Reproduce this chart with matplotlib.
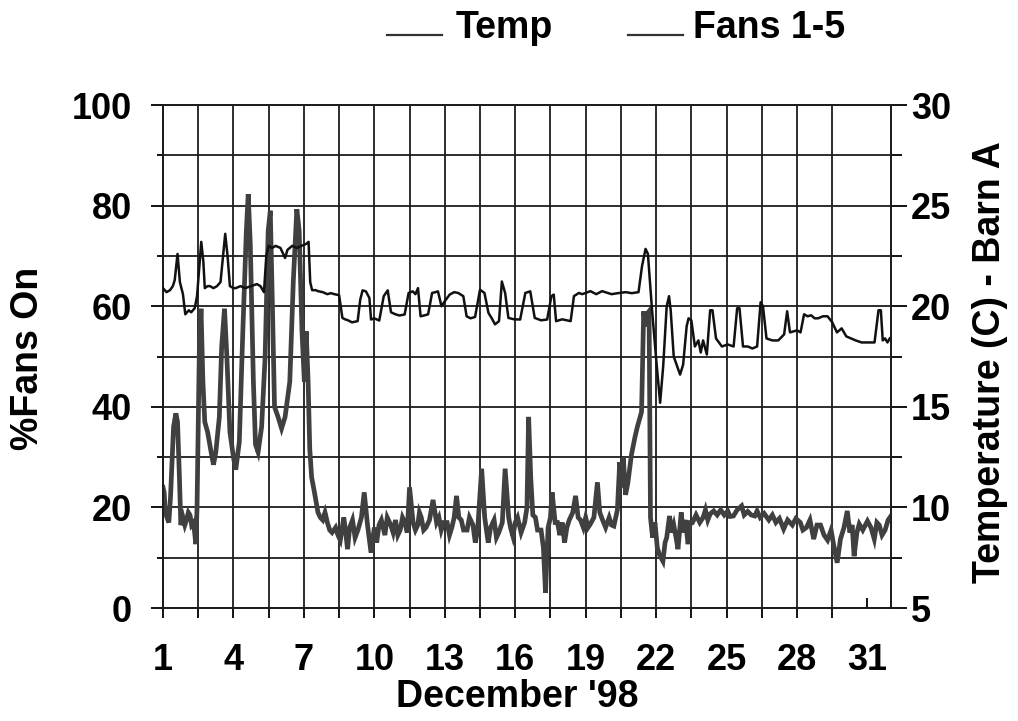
import matplotlib
matplotlib.use("Agg")
import matplotlib.pyplot as plt
import matplotlib.lines as mlines
import numpy as np

# Barn A, December 1998: inside temperature and share of fans 1-5 running
temp_day = [1.00, 1.15, 1.30, 1.42, 1.50, 1.62, 1.72, 1.85, 1.95, 2.10, 2.20, 2.35, 2.45, 2.55,
            2.63, 2.72, 2.78, 2.90, 3.00, 3.15, 3.30, 3.45, 3.55, 3.65, 3.75, 3.85, 4.00, 4.10,
            4.30, 4.50, 4.75, 5.00, 5.15, 5.30, 5.40, 5.50, 5.65, 5.80, 6.00, 6.20, 6.30, 6.50,
            6.70, 6.90, 7.10, 7.20, 7.27, 7.35, 7.50, 7.60, 7.80, 8.00, 8.15, 8.30, 8.50, 8.64,
            8.75, 8.86, 9.05, 9.29, 9.40, 9.50, 9.64, 9.79, 9.86, 10.00, 10.21, 10.40, 10.57,
            10.71, 10.90, 11.07, 11.29, 11.46, 11.64, 11.75, 11.86, 11.97, 12.15, 12.29, 12.46,
            12.60, 12.71, 12.86, 13.00, 13.21, 13.40, 13.57, 13.79, 13.93, 14.10, 14.29, 14.50,
            14.69, 14.86, 15.00, 15.14, 15.31, 15.43, 15.57, 15.71, 15.95, 16.21, 16.43, 16.64,
            16.83, 17.10, 17.36, 17.54, 17.64, 17.74, 18.00, 18.36, 18.50, 18.71, 18.85, 19.00,
            19.20, 19.45, 19.70, 19.86, 20.10, 20.43, 20.70, 20.96, 21.25, 21.40, 21.55, 21.65,
            21.75, 21.82, 22.00, 22.17, 22.30, 22.45, 22.55, 22.62, 22.75, 23.02, 23.15, 23.30,
            23.38, 23.50, 23.65, 23.80, 23.90, 24.00, 24.16, 24.30, 24.40, 24.55, 24.80, 25.05,
            25.30, 25.45, 25.55, 25.70, 25.90, 26.10, 26.30, 26.45, 26.55, 26.70, 26.95, 27.20,
            27.45, 27.58, 27.70, 28.00, 28.15, 28.30, 28.45, 28.60, 28.75, 28.90, 29.10, 29.30,
            29.50, 29.70, 29.90, 30.10, 30.30, 30.50, 30.75, 31.00, 31.30, 31.47, 31.57, 31.65,
            31.75, 31.85, 31.95]
temp_c = [20.9, 20.7, 20.8, 21.0, 21.3, 22.6, 21.2, 20.6, 19.6, 19.8, 19.7, 19.9, 20.5, 22.0,
          23.2, 22.2, 20.9, 21.0, 21.0, 20.9, 21.0, 21.2, 22.4, 23.6, 22.5, 21.0, 20.9, 20.9,
          21.0, 20.9, 21.0, 21.1, 21.0, 20.7, 22.5, 23.0, 22.9, 23.0, 22.9, 22.4, 22.8, 23.0,
          22.9, 23.0, 23.1, 23.2, 21.2, 20.8, 20.8, 20.75, 20.7, 20.6, 20.65, 20.6, 20.55, 19.42,
          19.35, 19.31, 19.2, 19.26, 20.33, 20.79, 20.74, 20.41, 19.34, 19.4, 19.29, 20.5, 20.79,
          19.7, 19.6, 19.54, 19.59, 20.66, 20.74, 20.6, 20.9, 19.5, 19.55, 19.6, 20.66,
          20.7, 20.74, 20.0, 20.25, 20.58, 20.7, 20.66, 20.5, 19.5, 19.4, 19.47, 20.82,
          20.66, 19.67, 19.4, 19.1, 19.26, 21.23, 20.66, 19.42, 19.35, 19.34, 20.66, 20.74,
          19.42, 19.3, 19.34, 20.5, 20.58, 19.26, 19.35, 19.26, 20.5, 20.66, 20.6, 20.66,
          20.75, 20.6, 20.75, 20.69, 20.6, 20.66, 20.7, 20.65, 20.7, 22.0, 22.85, 22.6,
          21.0, 19.9, 17.4, 15.2, 17.0, 20.0, 20.5, 19.8, 17.5, 16.6, 17.1, 19.0,
          19.4, 19.3, 18.0, 18.3, 17.7, 18.3, 17.6, 19.8, 19.8, 18.4, 18.0, 18.1,
          18.0, 19.9, 19.9, 18.0, 18.0, 17.9, 18.0, 20.2, 20.0, 18.4, 18.3, 18.3,
          18.6, 19.75, 18.7, 18.8, 18.7, 19.6, 19.5, 19.55, 19.4, 19.4, 19.5, 19.5,
          19.2, 18.7, 18.9, 18.5, 18.4, 18.3, 18.2, 18.2, 18.2, 19.8, 19.8, 18.3,
          18.4, 18.2, 18.4]

fans_day = [1.00, 1.05, 1.10, 1.17, 1.25, 1.32, 1.45, 1.55, 1.62, 1.70, 1.76, 1.85, 1.93, 2.00,
            2.08, 2.15, 2.22, 2.30, 2.40, 2.45, 2.55, 2.62, 2.70, 2.78, 2.90, 3.05, 3.15, 3.25,
            3.40, 3.50, 3.62, 3.72, 3.85, 4.00, 4.10, 4.25, 4.40, 4.55, 4.63, 4.72, 4.85, 4.94,
            5.05, 5.20, 5.35, 5.48, 5.57, 5.66, 5.75, 5.90, 6.05, 6.20, 6.40, 6.55, 6.70, 6.80,
            6.92, 7.02, 7.10, 7.18, 7.25, 7.33, 7.45, 7.60, 7.70, 7.80, 7.90, 8.00, 8.10, 8.20,
            8.35, 8.45, 8.55, 8.70, 8.78, 8.86, 8.95, 9.07, 9.18, 9.30, 9.45, 9.57, 9.71, 9.86,
            10.00, 10.10, 10.20, 10.30, 10.45, 10.55, 10.70, 10.80, 10.90, 11.00, 11.10, 11.20,
            11.30, 11.40, 11.50, 11.65, 11.75, 11.85, 11.92, 12.00, 12.10, 12.20, 12.35, 12.50,
            12.65, 12.75, 12.85, 12.95, 13.10, 13.20, 13.30, 13.40, 13.50, 13.60, 13.70, 13.80,
            13.95, 14.05, 14.20, 14.30, 14.40, 14.57, 14.70, 14.85, 14.95, 15.10, 15.20, 15.30,
            15.45, 15.57, 15.72, 15.80, 15.90, 16.00, 16.10, 16.25, 16.40, 16.50, 16.57, 16.66,
            16.75, 16.86, 16.95, 17.10, 17.20, 17.29, 17.40, 17.50, 17.57, 17.70, 17.80, 17.90,
            18.00, 18.10, 18.20, 18.30, 18.45, 18.57, 18.68, 18.78, 18.90, 19.00, 19.10, 19.20,
            19.35, 19.50, 19.60, 19.72, 19.85, 20.00, 20.10, 20.20, 20.35, 20.45, 20.52, 20.60,
            20.70, 20.80, 20.95, 21.10, 21.20, 21.38, 21.47, 21.55, 21.62, 21.70, 21.76, 21.85,
            21.95, 22.05, 22.15, 22.29, 22.38, 22.45, 22.57, 22.66, 22.75, 22.85, 22.93, 23.07,
            23.15, 23.25, 23.36, 23.45, 23.55, 23.70, 23.86, 24.00, 24.10, 24.20, 24.30, 24.45,
            24.60, 24.75, 24.90, 25.05, 25.15, 25.29, 25.45, 25.64, 25.75, 25.90, 26.05, 26.20,
            26.30, 26.43, 26.60, 26.80, 26.95, 27.10, 27.25, 27.43, 27.60, 27.80, 27.95, 28.14,
            28.25, 28.40, 28.55, 28.71, 28.85, 29.00, 29.15, 29.30, 29.45, 29.57, 29.71, 29.85,
            30.00, 30.14, 30.25, 30.35, 30.43, 30.55, 30.65, 30.80, 31.00, 31.15, 31.29, 31.40,
            31.50, 31.62, 31.75, 31.88, 32.00]
fans_pct = [24, 23, 19, 18, 17, 22, 36, 38.7, 37, 26, 16.5, 18, 16.5, 17.5,
            19, 18.5, 16.5, 17, 12.7, 20, 52, 59.5, 45, 37, 35, 31, 28.5, 31,
            38, 52, 59.5, 50, 35, 30, 27.5, 33, 55, 75, 82.3, 72, 45, 32.5,
            31, 36, 50, 75, 79, 60, 40, 38, 35.7, 38, 45, 65, 79.3, 75,
            55, 45, 55, 45, 31.7, 26, 23, 19, 18, 17.5, 19, 17, 15.5, 15,
            16, 14.5, 13.5, 18, 15, 11.7, 16, 17.5, 14, 15.5, 18, 23, 16.5, 11,
            16, 13, 16.5, 17.5, 14.5, 18, 16.5, 15, 17.5, 14.5, 15.5, 18,
            17, 15, 24, 17, 15.5, 16.5, 19, 18, 15.5, 16, 17.5, 21.5,
            17, 18, 15.5, 17, 17, 14.5, 16, 18, 22.3, 18, 17.5, 15.5,
            15.5, 18, 16.5, 13, 15.5, 27.7, 18, 13, 16, 17.5, 14, 15,
            17, 27.7, 18, 16, 14.3, 17, 18, 15, 17, 20, 38, 26,
            18.5, 18, 15.5, 15.5, 12, 3, 16, 18, 23, 17, 17, 14.5,
            17, 13, 16, 17.5, 19, 22.3, 18, 17.5, 16, 18, 16, 16.7,
            18, 25, 19, 17.5, 16, 18, 16.5, 16.3, 19.5, 29, 24, 30,
            22.5, 25, 30.5, 34, 36, 39, 59, 56, 58.5, 59, 18, 14,
            17, 12, 10.5, 9.3, 13, 14, 18.3, 15, 16.5, 14, 11.7, 19,
            15, 17.5, 12.7, 17, 17, 18.5, 17, 18, 19.5, 17.5, 18.7, 19.3,
            18.5, 19.5, 18.5, 19.3, 18.2, 18.3, 19.5, 20.3, 18.5, 19.2, 18.5, 18.3,
            19.3, 18, 18.8, 17.5, 18.5, 17, 17.8, 15.7, 17.5, 16.5, 17.8, 17,
            15.5, 16, 17.5, 13.7, 16.5, 16.5, 14.5, 13.5, 15.5, 12.3, 9, 13.7,
            16, 19.3, 15, 16.5, 10.3, 15, 16.7, 15.5, 17.3, 16, 13.7, 17,
            16.5, 14.5, 15.5, 17.5, 18.3]

TEXT_SIZE = 27
TICK_SIZE = 26


def make_chart():
    plt.rcParams['font.family'] = ['Liberation Sans', 'DejaVu Sans']
    plt.rcParams['font.weight'] = 'bold'

    fig = plt.figure(figsize=(10.18, 7.21), dpi=100)
    ax = fig.add_axes([0.1601, 0.1567, 0.7151, 0.6976])
    ax2 = ax.twinx()

    # fans on the left scale, temperature on the right scale (drawn on top)
    ax.plot(fans_day, fans_pct, color='#404040', lw=3.4, solid_joinstyle='miter', zorder=3)
    ax2.plot(temp_day, temp_c, color='#111111', lw=1.8, zorder=3)

    ax.set_xlim(1, 32)
    ax.set_ylim(0, 100)
    ax2.set_ylim(5, 30)

    ax.set_xticks(np.arange(1, 32, 3))
    ax.set_xticks(np.arange(2.5, 31, 3), minor=True)
    ax.set_yticks(np.arange(0, 101, 20))
    ax.set_yticks(np.arange(10, 100, 20), minor=True)
    ax2.set_yticks(np.arange(5, 31, 5))
    ax2.set_yticks(np.arange(7.5, 30, 5), minor=True)

    ax.grid(True, which='both', color='#1c1c1c', lw=1.3)

    ax.tick_params(axis='x', which='both', direction='out', length=7, width=1.3,
                   pad=18, labelsize=TICK_SIZE)
    ax.tick_params(axis='y', which='major', direction='out', length=8.5, width=1.3,
                   pad=14, labelsize=TICK_SIZE)
    ax.tick_params(axis='y', which='minor', direction='out', length=4.5, width=1.3)
    ax2.tick_params(axis='y', which='major', direction='out', length=11.5, width=1.3,
                    pad=3, labelsize=TICK_SIZE)
    ax2.tick_params(axis='y', which='minor', direction='out', length=8, width=1.3)

    for a in (ax, ax2):
        for s in a.spines.values():
            s.set_linewidth(1.3)
            s.set_color('#1c1c1c')

    # the day 31 line only has a short stub inside the frame
    last = ax.xaxis.get_major_ticks()[-1]
    last.gridline.set_visible(False)
    last.tick1line.set_marker(mlines.TICKUP)

    fig.text(28 / 1018, 1 - 358 / 721, '%Fans On', rotation=90, ha='center', va='center',
             fontsize=TEXT_SIZE, fontweight='bold')
    fig.text(990 / 1018, 1 - 362 / 721, 'Temperature (C) - Barn A', rotation=90,
             ha='center', va='center', fontsize=TEXT_SIZE, fontweight='bold')
    fig.text(517 / 1018, 1 - 707 / 721, "December '98", ha='center', va='baseline',
             fontsize=TEXT_SIZE, fontweight='bold')

    # legend across the top
    for x0, x1 in ((387, 442), (628, 683)):
        fig.add_artist(mlines.Line2D([x0 / 1018, x1 / 1018], [1 - 35 / 721, 1 - 35 / 721],
                                    color='#333333', lw=1.6, transform=fig.transFigure))
    fig.text(456 / 1018, 1 - 38 / 721, 'Temp', ha='left', va='baseline',
             fontsize=TEXT_SIZE, fontweight='bold')
    fig.text(693 / 1018, 1 - 38 / 721, 'Fans 1-5', ha='left', va='baseline',
             fontsize=TEXT_SIZE, fontweight='bold')

    fig.savefig('out.png', dpi=100, facecolor='white')
    plt.close(fig)


if __name__ == "__main__":
    make_chart()
